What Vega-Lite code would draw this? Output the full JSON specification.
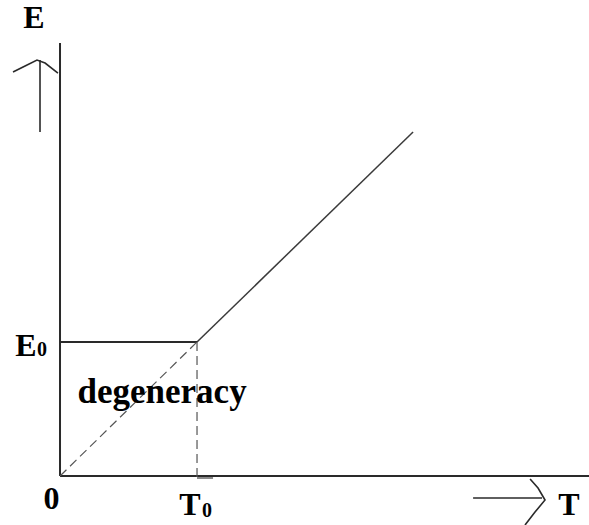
{
  "$schema": "https://vega.github.io/schema/vega-lite/v6.json",
  "width": 589,
  "height": 525,
  "autosize": {"type": "none"},
  "padding": 0,
  "background": "white",
  "config": {"view": {"stroke": null}},
  "datasets": {
    "axes": [
      {"part": "E-axis", "T": 0, "E": 3.231, "k": 0},
      {"part": "E-axis", "T": 0, "E": 0, "k": 1},
      {"part": "T-axis", "T": 0, "E": 0, "k": 0},
      {"part": "T-axis", "T": 3.861, "E": 0, "k": 1},
      {"part": "E0-level", "T": 0, "E": 1, "k": 0},
      {"part": "E0-level", "T": 1, "E": 1, "k": 1}
    ],
    "foot": [
      {"part": "T0-foot", "T": 1, "E": -0.015, "k": 0},
      {"part": "T0-foot", "T": 1.117, "E": -0.015, "k": 1}
    ],
    "curve": [
      {"part": "E(T)", "T": 1, "E": 1, "k": 0},
      {"part": "E(T)", "T": 2.577, "E": 2.567, "k": 1}
    ],
    "dashed": [
      {"part": "extrapolation", "T": 0, "E": 0, "k": 0},
      {"part": "extrapolation", "T": 1, "E": 1, "k": 1},
      {"part": "T0-drop", "T": 1, "E": 1, "k": 0},
      {"part": "T0-drop", "T": 1, "E": -0.015, "k": 1}
    ],
    "arrows": [
      {"part": "E-shaft", "T": -0.146, "E": 3.104, "k": 0},
      {"part": "E-shaft", "T": -0.146, "E": 2.567, "k": 1},
      {"part": "E-head", "T": -0.343, "E": 3.015, "k": 0},
      {"part": "E-head", "T": -0.255, "E": 3.06, "k": 1},
      {"part": "E-head", "T": -0.168, "E": 3.104, "k": 2},
      {"part": "E-head", "T": -0.109, "E": 3.082, "k": 3},
      {"part": "E-head", "T": -0.015, "E": 3.007, "k": 4},
      {"part": "T-shaft", "T": 3.015, "E": -0.164, "k": 0},
      {"part": "T-shaft", "T": 3.518, "E": -0.164, "k": 1},
      {"part": "T-head", "T": 3.431, "E": -0.022, "k": 0},
      {"part": "T-head", "T": 3.489, "E": -0.09, "k": 1},
      {"part": "T-head", "T": 3.54, "E": -0.179, "k": 2},
      {"part": "T-head", "T": 3.467, "E": -0.269, "k": 3},
      {"part": "T-head", "T": 3.394, "E": -0.366, "k": 4}
    ],
    "labels": [
      {"text": "E", "T": -0.19, "E": 3.343},
      {"text": "E", "T": -0.248, "E": 0.896},
      {"text": "0", "T": -0.062, "E": -0.246},
      {"text": "T", "T": 0.949, "E": -0.291},
      {"text": "T", "T": 3.715, "E": -0.291}
    ],
    "subscripts": [
      {"text": "0", "T": -0.131, "E": 0.896},
      {"text": "0", "T": 1.073, "E": -0.306}
    ],
    "notes": [
      {"text": "degeneracy", "T": 0.745, "E": 0.545}
    ]
  },
  "encoding": {
    "x": {"field": "T", "type": "quantitative", "scale": {"domain": [-0.438, 3.861], "nice": false, "zero": false}, "axis": null},
    "y": {"field": "E", "type": "quantitative", "scale": {"domain": [-0.3657, 3.5522], "nice": false, "zero": false}, "axis": null}
  },
  "layer": [
    {
      "data": {"name": "axes"},
      "mark": {"type": "line", "color": "#2a2a2a", "strokeWidth": 2, "strokeCap": "butt"},
      "encoding": {"detail": {"field": "part"}, "order": {"field": "k", "type": "quantitative"}}
    },
    {
      "data": {"name": "foot"},
      "mark": {"type": "line", "color": "#8a8a8a", "strokeWidth": 2, "strokeCap": "butt"},
      "encoding": {"detail": {"field": "part"}, "order": {"field": "k", "type": "quantitative"}}
    },
    {
      "data": {"name": "curve"},
      "mark": {"type": "line", "color": "#3a3a3a", "strokeWidth": 1.5},
      "encoding": {"detail": {"field": "part"}, "order": {"field": "k", "type": "quantitative"}}
    },
    {
      "data": {"name": "dashed"},
      "mark": {"type": "line", "color": "#555555", "strokeWidth": 1.2, "strokeDash": [9, 5]},
      "encoding": {"detail": {"field": "part"}, "order": {"field": "k", "type": "quantitative"}}
    },
    {
      "data": {"name": "arrows"},
      "mark": {"type": "line", "color": "#2a2a2a", "strokeWidth": 1.6},
      "encoding": {"detail": {"field": "part"}, "order": {"field": "k", "type": "quantitative"}}
    },
    {
      "data": {"name": "labels"},
      "mark": {"type": "text", "font": "Liberation Serif", "fontWeight": "bold", "fontSize": 32, "baseline": "alphabetic", "align": "center", "color": "#000000"},
      "encoding": {"text": {"field": "text"}}
    },
    {
      "data": {"name": "subscripts"},
      "mark": {"type": "text", "font": "Liberation Serif", "fontWeight": "bold", "fontSize": 20, "baseline": "alphabetic", "align": "center", "color": "#000000"},
      "encoding": {"text": {"field": "text"}}
    },
    {
      "data": {"name": "notes"},
      "mark": {"type": "text", "font": "Liberation Serif", "fontWeight": "bold", "fontSize": 35, "baseline": "alphabetic", "align": "center", "color": "#000000"},
      "encoding": {"text": {"field": "text"}}
    }
  ]
}
